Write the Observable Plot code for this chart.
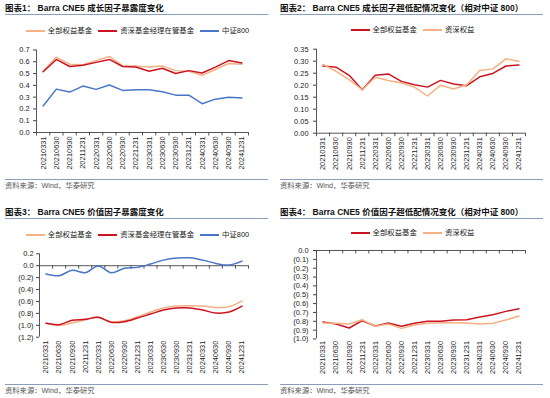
<!DOCTYPE html>
<html><head><meta charset="utf-8">
<script src="https://cdn.jsdelivr.net/npm/d3@7"></script>
<script src="https://cdn.jsdelivr.net/npm/@observablehq/plot@0.6"></script>
<style>
body{margin:0;background:#fff;}
#root{position:relative;width:550px;height:398px;overflow:hidden;background:#fff;font-family:"Liberation Sans",Arial,"Noto Sans CJK SC",sans-serif;}
.title{position:absolute;font-weight:bold;font-size:8.5px;color:#111;white-space:nowrap;line-height:1;}
.uline{position:absolute;height:1.6px;background:#8A9EBC;}
.sline{position:absolute;height:1px;background:#8A9EBC;}
.src{position:absolute;font-size:7.3px;color:#555;white-space:nowrap;line-height:1;}
.legend{position:absolute;display:flex;justify-content:center;align-items:center;font-size:7.4px;color:#222;white-space:nowrap;line-height:1;}
.legend .item{display:flex;align-items:center;margin:0 3px;}
.legend .sw{display:inline-block;width:19px;height:1.6px;margin-right:3px;}
.chart{position:absolute;}
</style></head>
<body><div id="root"></div>
<script>
const dates = ["20210331","20210630","20210930","20211231","20220331","20220630","20220930","20221231","20230331","20230630","20230930","20231231","20240331","20240630","20240930","20241231"];

// Panel 1: growth factor exposure
const growthAll    = [0.520,0.640,0.580,0.575,0.610,0.645,0.565,0.565,0.555,0.565,0.525,0.520,0.485,0.535,0.585,0.580];
const growthSenior = [0.515,0.620,0.560,0.570,0.595,0.620,0.560,0.555,0.520,0.545,0.500,0.525,0.505,0.555,0.610,0.590];
const growthCsi800 = [0.225,0.368,0.343,0.394,0.366,0.403,0.357,0.363,0.363,0.345,0.317,0.317,0.244,0.283,0.300,0.292];
const growthTicks  = [0,0.1,0.2,0.3,0.4,0.5,0.6,0.7];

// Panel 2: growth factor over/under weight vs CSI 800
const growthRelAll    = [0.280,0.275,0.241,0.181,0.241,0.247,0.216,0.202,0.192,0.220,0.205,0.198,0.235,0.249,0.280,0.284];
const growthRelSenior = [0.287,0.258,0.223,0.181,0.233,0.220,0.209,0.192,0.155,0.200,0.184,0.202,0.261,0.268,0.310,0.300];
const growthRelTicks  = [0,0.05,0.10,0.15,0.20,0.25,0.30,0.35];

// Panel 3: value factor exposure
const valueAll    = [-0.967,-1.000,-0.961,-0.911,-0.867,-0.944,-0.922,-0.856,-0.778,-0.711,-0.678,-0.672,-0.678,-0.700,-0.689,-0.589];
const valueSenior = [-0.967,-0.989,-0.917,-0.900,-0.867,-0.950,-0.939,-0.878,-0.811,-0.744,-0.711,-0.711,-0.744,-0.794,-0.778,-0.678];
const valueCsi800 = [-0.139,-0.167,-0.078,-0.117,-0.005,-0.117,-0.044,-0.028,0.028,0.094,0.128,0.133,0.094,0.039,0.011,0.078];
const valueTicks  = [0.2,0,-0.2,-0.4,-0.6,-0.8,-1.0,-1.2];

// Panel 4: value factor over/under weight vs CSI 800
const valueRelAll    = [-0.808,-0.831,-0.876,-0.793,-0.853,-0.820,-0.857,-0.823,-0.800,-0.800,-0.786,-0.782,-0.752,-0.726,-0.688,-0.658];
const valueRelSenior = [-0.820,-0.823,-0.831,-0.782,-0.857,-0.831,-0.880,-0.842,-0.823,-0.816,-0.816,-0.820,-0.831,-0.823,-0.786,-0.740];
const valueRelTicks  = [0,-0.1,-0.2,-0.3,-0.4,-0.5,-0.6,-0.7,-0.8,-0.9,-1.0];

const titles = ["图表1： Barra CNE5 成长因子暴露度变化","图表2： Barra CNE5 成长因子超低配情况变化（相对中证 800）","图表3： Barra CNE5 价值因子暴露度变化","图表4： Barra CNE5 价值因子超低配情况变化（相对中证 800）"];
const sourceText = "资料来源：Wind，华泰研究";

const ORANGE = "#F5B084", RED = "#CC1420", BLUE = "#4A76C8", AXIS = "#444";

const root = document.getElementById("root");
function add(cls, style, text){const d=document.createElement("div");d.className=cls;Object.assign(d.style,style);if(text)d.textContent=text;root.appendChild(d);return d;}

function fmtFactory(dec){return d => { const s = Math.abs(d).toFixed(dec); return d < -1e-9 ? "(" + s + ")" : s; };}

function panel(cfg){
  const L = cfg.left, T = cfg.top;
  add("title", {left:(L+5)+"px", top:(T+3.5)+"px"}, cfg.title);
  add("uline", {left:(L+5)+"px", top:(T+13.5)+"px", width:"263px"});
  const lg = add("legend", {left:L+"px", top:(T+cfg.legendY)+"px", width:"275px"});
  cfg.series.forEach(s => {
    const it=document.createElement("span");it.className="item";
    const sw=document.createElement("span");sw.className="sw";sw.style.background=s.color;
    it.appendChild(sw);it.appendChild(document.createTextNode(s.name));lg.appendChild(it);
  });
  const xd = [-0.5, dates.length - 0.5];
  const bounds = dates.map((d,i)=>i-0.5).concat([dates.length-0.5]);
  const marks = [
    Plot.ruleY([0], {stroke: AXIS, strokeWidth: 0.9}),
    Plot.ruleX(bounds, {x: d=>d, y1: 0, y2: 0, insetBottom: -3.5, stroke: AXIS, strokeWidth: 0.9}),
    Plot.ruleX([xd[0]], {y1: cfg.yDomain[0], y2: cfg.yDomain[1], stroke: AXIS, strokeWidth: 0.9}),
    Plot.axisY({ticks: cfg.yTicks, tickSize: 3, tickPadding: cfg.tickPad, tickFormat: fmtFactory(cfg.dec), label: null, stroke: AXIS}),
    Plot.axisX({ticks: dates.map((d,i)=>i), tickSize: 0, tickPadding: cfg.xPad, tickRotate: -90, tickFormat: i => dates[i], label: null}),
    ...cfg.series.map(s => Plot.line(s.values, {x: (d,i)=>i, y: d=>d, stroke: s.color, strokeWidth: 1.5, curve: cfg.curve || "linear"}))
  ];
  const svg = Plot.plot({
    width: 275, height: cfg.h,
    marginTop: cfg.mt, marginBottom: cfg.mb, marginLeft: cfg.ml, marginRight: cfg.mr,
    x: {domain: xd}, y: {domain: [cfg.yDomain[0], cfg.yDomain[1]]},
    style: {fontFamily: "'Liberation Sans', Arial, sans-serif", fontSize: "7.4px", color: "#222", background: "none", overflow: "visible"},
    marks
  });
  const c = add("chart", {left:L+"px", top:(T+cfg.svgTop)+"px"});
  c.appendChild(svg);
  add("sline", {left:(L+5)+"px", top:(T+cfg.srcY)+"px", width:"263px"});
  add("src", {left:(L+5)+"px", top:(T+cfg.srcY+3)+"px"}, sourceText);
}

panel({left:0, top:0, title:titles[0], legendY:27, svgTop:40, h:140, mt:9.5, mb:48, ml:36, mr:27,
  yDomain:[0,0.7], yTicks:growthTicks, dec:1, tickPad:4, xPad:4, srcY:179,
  series:[{name:"全部权益基金",color:ORANGE,values:growthAll},{name:"资深基金经理在管基金",color:RED,values:growthSenior},{name:"中证800",color:BLUE,values:growthCsi800}]});

panel({left:275, top:0, title:titles[1], legendY:26, svgTop:40, h:140, mt:8.7, mb:47.3, ml:41, mr:25,
  yDomain:[0,0.35], yTicks:growthRelTicks, dec:2, tickPad:5, xPad:4, srcY:179,
  series:[{name:"全部权益基金",color:RED,values:growthRelAll},{name:"资深权益",color:ORANGE,values:growthRelSenior}]});

panel({left:0, top:204, title:titles[2], legendY:27, svgTop:41, h:135, mt:8.3, mb:43.3, ml:39, mr:27,
  yDomain:[-1.2,0.2], yTicks:valueTicks, dec:1, tickPad:3, xPad:3.5, srcY:180, curve:"catmull-rom",
  series:[{name:"全部权益基金",color:ORANGE,values:valueAll},{name:"资深基金经理在管基金",color:RED,values:valueSenior},{name:"中证800",color:BLUE,values:valueCsi800}]});

panel({left:275, top:204, title:titles[3], legendY:25, svgTop:41, h:135, mt:5, mb:41.5, ml:41, mr:25,
  yDomain:[-1.0,0], yTicks:valueRelTicks, dec:1, tickPad:5, xPad:2, srcY:180,
  series:[{name:"全部权益基金",color:RED,values:valueRelAll},{name:"资深权益",color:ORANGE,values:valueRelSenior}]});
</script>
</body></html>
